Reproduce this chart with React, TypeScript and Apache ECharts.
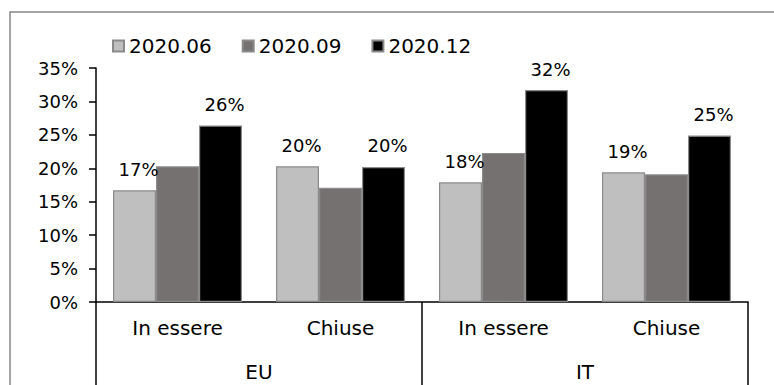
import React, { useEffect, useRef } from "react";
import * as echarts from "echarts";

// Category labels (inner level) and their groups (outer level)
const categories = ["In essere", "Chiuse", "In essere", "Chiuse"];
const groups = ["EU", "IT"];

// Series names and values, in percent
const seriesNames = ["2020.06", "2020.09", "2020.12"];
const values0620 = [16.7, 20.3, 17.9, 19.4];
const values0920 = [20.3, 17.1, 22.3, 19.1];
const values1220 = [26.4, 20.2, 31.7, 24.9];

// Y axis range
const yMin = 0;
const yMax = 35;
const yStep = 5;

const FONT = "DejaVu Sans";
const colors = ["#bfbfbf", "#767171", "#000000"];

export default function App() {
  const ref = useRef<HTMLDivElement>(null);

  useEffect(() => {
    if (!ref.current) return;
    const chart = echarts.init(ref.current, undefined, { renderer: "svg" });

    const label = {
      show: true,
      position: "top",
      distance: 12,
      offset: [4, 0],
      fontFamily: FONT,
      fontSize: 18,
      color: "#000",
      formatter: (p: any) => `${Math.round(p.value)}%`,
    };

    const mkSeries = (name: string, data: number[], color: string, withLabel: boolean) => ({
      name,
      type: "bar",
      data,
      barWidth: 43,
      barGap: "0%",
      itemStyle: { color, borderColor: "#8a8a8a", borderWidth: 1.2 },
      label: withLabel ? label : { show: false },
    });

    chart.setOption({
      animation: false,
      backgroundColor: "#fff",
      textStyle: { fontFamily: FONT },
      graphic: [
        {
          type: "rect",
          z: -10,
          shape: { x: 10, y: 12, width: 800, height: 420 },
          style: { fill: "none", stroke: "#868686", lineWidth: 1.5 },
        },
      ],
      legend: {
        left: 107,
        top: 31,
        itemWidth: 11,
        itemHeight: 11,
        itemGap: 30,
        icon: "rect",
        textStyle: { fontFamily: FONT, fontSize: 20, color: "#000" },
        data: seriesNames,
      },
      grid: { left: 96, top: 68, width: 652, height: 234, containLabel: false },
      xAxis: [
        {
          type: "category",
          data: categories,
          position: "bottom",
          axisLine: { show: true, lineStyle: { color: "#000", width: 1.5 } },
          axisTick: { show: false },
          axisLabel: { fontFamily: FONT, fontSize: 20, color: "#000", margin: 16 },
        },
        {
          type: "category",
          data: groups,
          position: "bottom",
          offset: 0,
          axisLine: { show: false },
          axisTick: { show: true, length: 83, lineStyle: { color: "#000", width: 1.5 } },
          axisLabel: { fontFamily: FONT, fontSize: 20, color: "#000", margin: 60 },
        },
      ],
      yAxis: {
        type: "value",
        min: yMin,
        max: yMax,
        interval: yStep,
        axisLine: { show: true, lineStyle: { color: "#000", width: 1.5 } },
        axisTick: { show: true, length: 7, lineStyle: { color: "#000", width: 1.5 } },
        splitLine: { show: false },
        axisLabel: {
          fontFamily: FONT,
          fontSize: 18,
          color: "#000",
          margin: 18,
          formatter: "{value}%",
        },
      },
      series: [
        mkSeries(seriesNames[0], values0620, colors[0], true),
        mkSeries(seriesNames[1], values0920, colors[1], false),
        mkSeries(seriesNames[2], values1220, colors[2], true),
      ],
    });

    return () => chart.dispose();
  }, []);

  return (
    <div
      ref={ref}
      style={{ position: "absolute", left: 0, top: 0, width: 774, height: 385 }}
    />
  );
}
